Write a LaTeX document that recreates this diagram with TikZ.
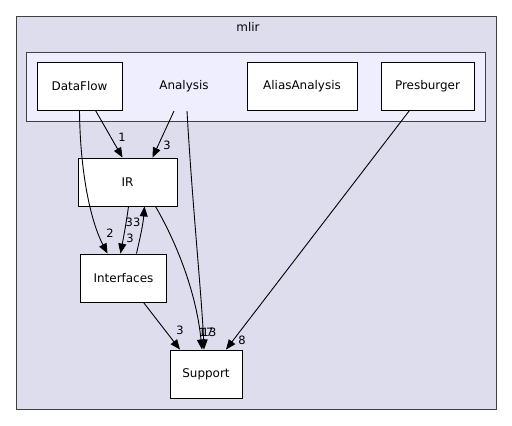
\documentclass[tikz,border=0pt]{standalone}
\usepackage{fontspec}
\setmainfont{DejaVu Sans}
\usetikzlibrary{arrows.meta}
\definecolor{outerfill}{HTML}{DDDDEE}
\definecolor{innerfill}{HTML}{EEEEFF}
\definecolor{clborder}{HTML}{404040}
\tikzset{
  box/.style={draw=black, line width=0.9bp, fill=white, inner sep=0pt, font=\fontsize{12}{14}\selectfont},
  edge/.style={draw=black, line width=0.9bp, -{Triangle[length=10bp,width=8bp]}},
  elabel/.style={font=\fontsize{11.5}{13}\selectfont, inner sep=0pt},
}
\begin{document}
\begin{tikzpicture}[x=1bp,y=-1bp]
\useasboundingbox (0,0) rectangle (512,425);
\fill[white] (0,0) rectangle (512,425);
% clusters
\draw[clborder, line width=0.9bp, fill=outerfill] (16,16) rectangle (496,409);
\node[font=\fontsize{12}{14}\selectfont] (mlir) at (248,27) {mlir};
\draw[clborder, line width=0.9bp, fill=innerfill] (26,52) rectangle (485,121);
\node[font=\fontsize{12}{14}\selectfont] (an) at (184,86) {Analysis};
% nodes
\node[box, minimum width=85bp, minimum height=48bp] (df) at (79.5,86) {DataFlow};
\node[box, minimum width=110bp, minimum height=48bp] (aa) at (302,86) {AliasAnalysis};
\node[box, minimum width=93bp, minimum height=48bp] (pb) at (427.5,86) {Presburger};
\node[box, minimum width=99bp, minimum height=48bp] (ir) at (127.5,182) {IR};
\node[box, minimum width=86bp, minimum height=48bp] (if) at (123.5,278) {Interfaces};
\node[box, minimum width=72bp, minimum height=48bp] (sp) at (206,374) {Support};
% anchors for Analysis cluster edges
\coordinate (a1) at (174,111);
\coordinate (a2) at (187,111);
% edges
\draw[edge] ([xshift=16bp]df.south) -- ([xshift=-5bp]ir.north);
\node[elabel] (l1) at (122,137) {1};
\draw[edge] (a1) -- ([xshift=25bp]ir.north);
\node[elabel] (l2) at (167,145) {3};
\draw[edge] (a2) .. controls (192,200) and (202,300) .. ([xshift=-2bp]sp.north);
\node[elabel] (l3) at (206,332) {17};
\draw[edge] ([xshift=0bp]df.south) .. controls (80,170) and (90,220) .. ([xshift=-16bp]if.north);
\node[elabel] (l4) at (110,233) {2};
\draw[edge] ([xshift=1bp]ir.south) .. controls (126,225) and (123,240) .. ([xshift=-3bp]if.north);
\node[elabel] (l5) at (130,238) {3};
\draw[edge] ([xshift=13bp]if.north) .. controls (140,238) and (143,225) .. ([xshift=17bp]ir.south);
\node[elabel] (l6) at (133,222) {33};
\draw[edge] ([xshift=28bp]ir.south) .. controls (175,240) and (196,290) .. ([xshift=-4bp]sp.north);
\node[elabel] (l7) at (209,332) {13};
\draw[edge] ([xshift=20bp]if.south) -- ([xshift=-26bp]sp.north);
\node[elabel] (l8) at (180,330) {3};
\draw[edge] ([xshift=-18bp]pb.south) -- ([xshift=20bp]sp.north);
\node[elabel] (l9) at (242,340) {8};
\end{tikzpicture}
\end{document}
